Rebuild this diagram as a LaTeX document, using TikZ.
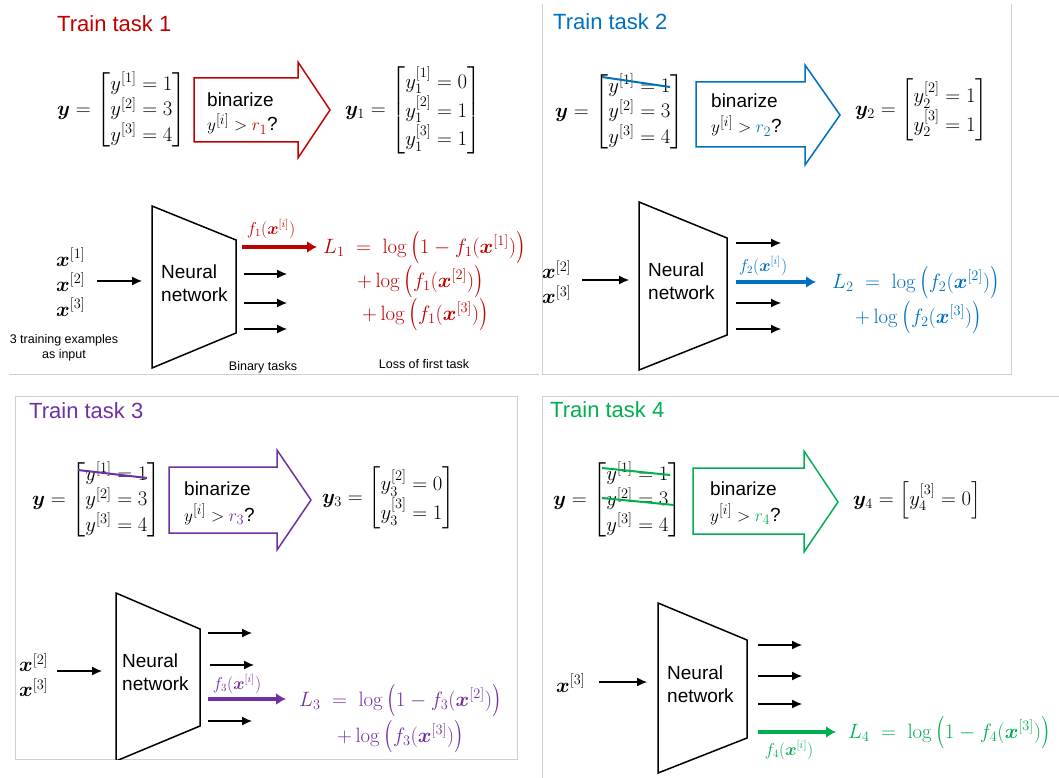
\documentclass[tikz,border=0pt]{standalone}
\usepackage{amsmath,bm,graphicx}
\usepackage[no-math]{fontspec}
\newfontfamily\arial{Liberation Sans}
\usetikzlibrary{arrows.meta}
\definecolor{cA}{HTML}{C00000}
\definecolor{cB}{HTML}{0070C0}
\definecolor{cC}{HTML}{7030A0}
\definecolor{cD}{HTML}{00B050}
\definecolor{panelgray}{HTML}{CFCFCF}
\newcommand{\tallL}{\mathopen{\vcenter{\hbox{\scalebox{1}[1.3]{$\bigl($}}}}}
\newcommand{\tallR}{\mathclose{\vcenter{\hbox{\scalebox{1}[1.3]{$\bigr)$}}}}}
\newcommand{\bigpar}[1]{\,\tallL #1\tallR}
\tikzset{
  panel/.style={draw=panelgray, line width=0.9pt},
  ttl/.style={font=\arial\fontsize{22}{26}\selectfont, anchor=base west, inner sep=0pt},
  bintxt/.style={font=\arial\fontsize{19}{23}\selectfont, anchor=base west, inner sep=0pt},
  mth/.style={font=\fontsize{20}{25}\selectfont, anchor=west, inner sep=0pt, align=left},
  nntxt/.style={font=\arial\fontsize{19}{23}\selectfont, align=left, anchor=west, inner sep=0pt},
  smalltxt/.style={font=\arial\fontsize{12.5}{15}\selectfont, align=center, inner sep=0pt},
  lbl/.style={font=\fontsize{16}{19}\selectfont, inner sep=0pt},
  nnbox/.style={draw, line width=1.5pt, line join=miter},
  outarr/.style={-{Latex[length=10pt,width=9pt]}, line width=1.2pt},
  taskarr/.style={-{Latex[length=10pt,width=12pt]}, line width=4pt},
  binarr/.style={line width=1.5pt, line join=miter},
  strike/.style={line width=2pt},
}
\begin{document}
\begin{tikzpicture}[x=1pt,y=-1pt]
\useasboundingbox (0,0) rectangle (1059,778);
\renewcommand{\arraystretch}{0.95}

% ================= Panel 1 =================
\draw[panel] (9,374) -- (539,374);
\node[ttl, text=cA] (t1) at (57,32) {Train task 1};
\node[mth] (ym1) at (57,110) {$\bm{y} = \begin{bmatrix} y^{[1]} = 1\\ y^{[2]} = 3\\ y^{[3]} = 4\end{bmatrix}$};
\draw[binarr, draw=cA] (194,78) -- (298,78) -- (298,62) -- (330,110) -- (298,158) -- (298,142) -- (194,142) -- cycle;
\node[bintxt] (ba1) at (207,107) {binarize};
\node[bintxt] (bb1) at (207,131) {$y^{[i]} > {\color{cA}r_1}$?};
\node[mth] (yo1) at (345,110) {$\bm{y}_1 = \begin{bmatrix} y_1^{[1]} = 0\\ y_1^{[2]} = 1\\ y_1^{[3]} = 1\end{bmatrix}$};
\draw[nnbox] (152,206) -- (236,240) -- (236,333) -- (152,368) -- cycle;
\node[nntxt] (nn1) at (161,283) {Neural\\network};
\node[mth] (xs1) at (56,282) {$\bm{x}^{[1]}$\\$\bm{x}^{[2]}$\\$\bm{x}^{[3]}$};
\coordinate (i1a) at (97,281); \coordinate (i1b) at (142,281);
\draw[outarr] (i1a) -- (i1b);
\coordinate (o1a) at (242,247); \coordinate (o1b) at (317,247);
\draw[taskarr, draw=cA, fill=cA] (o1a) -- (o1b);
\foreach \yy/\nm in {274/p, 303/q, 329/r}{
  \coordinate (s1\nm) at (244,\yy); \coordinate (e1\nm) at (287,\yy);
  \draw[outarr] (s1\nm) -- (e1\nm);
}
\node[lbl, text=cA] (f1) at (271,229) {$f_1(\bm{x}^{[i]})$};
\node[mth, text=cA] (L1a) at (323,248) {$L_1 \;=\; \log\bigpar{1 - f_1(\bm{x}^{[1]})}$};
\node[mth, text=cA] (L1b) at (357,282) {$+\log\bigpar{f_1(\bm{x}^{[2]})}$};
\node[mth, text=cA] (L1c) at (362,315) {$+\log\bigpar{f_1(\bm{x}^{[3]})}$};
\node[smalltxt] (c1) at (64,348) {3 training examples\\as input};
\node[smalltxt] (c2) at (263,367) {Binary tasks};
\node[smalltxt] (c3) at (424,364) {Loss of first task};

% ================= Panel 2 =================
\draw[panel] (542,4) -- (542,374) -- (1011,374) -- (1011,4);
\node[ttl, text=cB] (t2) at (553,30) {Train task 2};
\node[mth] (ym2) at (555,112) {$\bm{y} = \begin{bmatrix} y^{[1]} = 1\\ y^{[2]} = 3\\ y^{[3]} = 4\end{bmatrix}$};
\draw[strike, draw=cB] (602,77) -- (670,87);
\draw[binarr, draw=cB] (696,82) -- (805,82) -- (805,65) -- (840,115) -- (805,165) -- (805,147) -- (696,147) -- cycle;
\node[bintxt] (ba2) at (711,108) {binarize};
\node[bintxt] (bb2) at (711,133) {$y^{[i]} > {\color{cB}r_2}$?};
\node[mth] (yo2) at (855,110) {$\bm{y}_2 = \begin{bmatrix} y_2^{[2]} = 1\\ y_2^{[3]} = 1\end{bmatrix}$};
\draw[nnbox] (639,202) -- (727,238) -- (727,335) -- (639,370) -- cycle;
\node[nntxt] (nn2) at (648,281) {Neural\\network};
\node[mth] (xs2) at (542,282) {$\bm{x}^{[2]}$\\$\bm{x}^{[3]}$};
\coordinate (i2a) at (582,280); \coordinate (i2b) at (629,280);
\draw[outarr] (i2a) -- (i2b);
\coordinate (o2a) at (736,282); \coordinate (o2b) at (816,282);
\draw[taskarr, draw=cB, fill=cB] (o2a) -- (o2b);
\foreach \yy/\nm in {243/p, 303/q, 329/r}{
  \coordinate (s2\nm) at (736,\yy); \coordinate (e2\nm) at (781,\yy);
  \draw[outarr] (s2\nm) -- (e2\nm);
}
\node[lbl, text=cB] (f2) at (763,266) {$f_2(\bm{x}^{[i]})$};
\node[mth, text=cB] (L2a) at (832,283) {$L_2 \;=\; \log\bigpar{f_2(\bm{x}^{[2]})}$};
\node[mth, text=cB] (L2b) at (855,318) {$+\log\bigpar{f_2(\bm{x}^{[3]})}$};

% ================= Panel 3 =================
\draw[panel] (15,396) rectangle (517,759);
\node[ttl, text=cC] (t3) at (29,418) {Train task 3};
\node[mth] (ym3) at (32,500) {$\bm{y} = \begin{bmatrix} y^{[1]} = 1\\ y^{[2]} = 3\\ y^{[3]} = 4\end{bmatrix}$};
\draw[strike, draw=cC] (78,470) -- (147,478);
\draw[binarr, draw=cC] (169,467) -- (277,467) -- (277,450) -- (311,500) -- (277,550) -- (277,533) -- (169,533) -- cycle;
\node[bintxt] (ba3) at (184,495) {binarize};
\node[bintxt] (bb3) at (184,521) {$y^{[i]} > {\color{cC}r_3}$?};
\node[mth] (yo3) at (322,498) {$\bm{y}_3 = \begin{bmatrix} y_3^{[2]} = 0\\ y_3^{[3]} = 1\end{bmatrix}$};
\begin{scope}
\clip (15,396) rectangle (517,759);
\draw[nnbox] (116,593) -- (200,629) -- (200,726) -- (116,761) -- cycle;
\end{scope}
\node[nntxt] (nn3) at (122,672) {Neural\\network};
\node[mth] (xs3) at (19,675) {$\bm{x}^{[2]}$\\$\bm{x}^{[3]}$};
\coordinate (i3a) at (57,671); \coordinate (i3b) at (102,671);
\draw[outarr] (i3a) -- (i3b);
\coordinate (o3a) at (208,699); \coordinate (o3b) at (286,699);
\draw[taskarr, draw=cC, fill=cC] (o3a) -- (o3b);
\foreach \xa/\xb/\yy/\nm in {208/252/633/p, 210/254/665/q, 208/252/721/r}{
  \coordinate (s3\nm) at (\xa,\yy); \coordinate (e3\nm) at (\xb,\yy);
  \draw[outarr] (s3\nm) -- (e3\nm);
}
\node[lbl, text=cC] (f3) at (237,684) {$f_3(\bm{x}^{[i]})$};
\node[mth, text=cC] (L3a) at (299,701) {$L_3 \;=\; \log\bigpar{1 - f_3(\bm{x}^{[2]})}$};
\node[mth, text=cC] (L3b) at (337,737) {$+\log\bigpar{f_3(\bm{x}^{[3]})}$};

% ================= Panel 4 =================
\draw[panel] (1059,396) -- (542,396) -- (542,778);
\node[ttl, text=cD] (t4) at (550,417) {Train task 4};
\node[mth] (ym4) at (553,500) {$\bm{y} = \begin{bmatrix} y^{[1]} = 1\\ y^{[2]} = 3\\ y^{[3]} = 4\end{bmatrix}$};
\draw[strike, draw=cD] (602,468) -- (670,475);
\draw[strike, draw=cD] (602,498) -- (674,505);
\draw[binarr, draw=cD] (693,468) -- (804,468) -- (804,451) -- (838,502) -- (804,552) -- (804,534) -- (693,534) -- cycle;
\node[bintxt] (ba4) at (710,495) {binarize};
\node[bintxt] (bb4) at (710,521) {$y^{[i]} > {\color{cD}r_4}$?};
\node[mth] (yo4) at (853,500) {$\bm{y}_4 = \Bigl[y_4^{[3]} = 0\Bigr]$};
\draw[nnbox] (658,603) -- (747,640) -- (747,738) -- (658,773) -- cycle;
\node[nntxt] (nn4) at (667,684) {Neural\\network};
\node[mth] (xs4) at (556,683) {$\bm{x}^{[3]}$};
\coordinate (i4a) at (599,682); \coordinate (i4b) at (647,682);
\draw[outarr] (i4a) -- (i4b);
\foreach \yy/\nm in {645/p, 676/q, 704/r}{
  \coordinate (s4\nm) at (758,\yy); \coordinate (e4\nm) at (802,\yy);
  \draw[outarr] (s4\nm) -- (e4\nm);
}
\coordinate (o4a) at (758,732); \coordinate (o4b) at (836,732);
\draw[taskarr, draw=cD, fill=cD] (o4a) -- (o4b);
\node[lbl, text=cD] (f4) at (789,750) {$f_4(\bm{x}^{[i]})$};
\node[mth, text=cD] (L4a) at (848,733) {$L_4 \;=\; \log\bigpar{1 - f_4(\bm{x}^{[3]})}$};
\end{tikzpicture}
\end{document}
